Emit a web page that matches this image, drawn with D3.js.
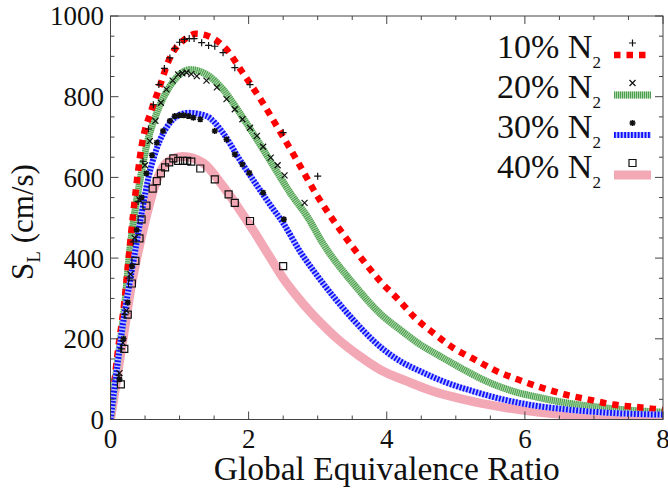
<!DOCTYPE html>
<html>
<head>
<meta charset="utf-8">
<script src="https://cdn.jsdelivr.net/npm/d3@7"></script>
<style>
	body { margin: 0; background: #fff; }
	svg { display: block; }
</style>
</head>
<body>
<svg id="chart" width="668" height="491"></svg>
<script>
// Series names
const seriesNames = ["10% N", "20% N", "30% N", "40% N"];

// Simulated burning velocity curves: [phi, S_L]
const sim10 = [[0,0],[0.1,160],[0.2,290],[0.28,430],[0.33,512],[0.45,677],[0.6,770],[0.69,814],[0.86,896],[1.08,943],[1.24,956],[1.42,950],[1.68,917],[1.9,863],[2.19,789],[2.45,715],[2.72,636],[2.98,558],[3.27,483],[3.59,409],[3.92,340],[4.17,297],[4.41,252],[4.67,215],[4.96,178],[5.27,149],[5.59,120],[5.9,99],[6.24,79],[6.58,62],[6.91,50],[7.28,37],[7.61,31],[8,24]];
const sim20 = [[0,0],[0.1,140],[0.2,275],[0.28,420],[0.35,512],[0.43,595],[0.52,677],[0.67,760],[0.86,826],[1.0,855],[1.15,867],[1.39,855],[1.63,818],[1.87,760],[2.12,694],[2.36,628],[2.6,562],[2.86,500],[3.08,435],[3.5,340],[3.92,260],[4.19,223],[4.48,186],[4.77,157],[5.11,124],[5.44,95],[5.83,70],[6.22,54],[6.6,41],[7.04,31],[7.52,23],[8,18]];
const sim30 = [[0,0],[0.1,135],[0.2,260],[0.3,360],[0.37,430],[0.47,530],[0.55,600],[0.67,672],[0.86,735],[1.0,755],[1.13,760],[1.39,752],[1.63,710],[1.87,644],[2.1,585],[2.3,535],[2.5,487],[2.75,415],[3.0,355],[3.25,300],[3.5,250],[3.92,178],[4.19,145],[4.48,120],[4.87,91],[5.25,70],[5.68,50],[6.12,35],[6.6,25],[7.18,17],[8,12]];
const sim40 = [[0,0],[0.1,110],[0.2,220],[0.3,330],[0.43,438],[0.52,504],[0.64,578],[0.81,636],[1.05,652],[1.34,636],[1.63,578],[1.87,520],[2.07,468],[2.3,405],[2.5,350],[2.7,305],[2.9,265],[3.1,230],[3.3,198],[3.6,158],[3.92,122],[4.29,95],[4.67,70],[5.11,50],[5.59,33],[6.07,21],[6.6,12],[7.28,8],[8,7]];

// Measured points: [phi, S_L]
const exp10 = [[0.12,110],[0.16,175],[0.21,260],[0.27,350],[0.33,440],[0.4,540],[0.47,640],[0.55,720],[0.62,780],[0.7,830],[0.78,870],[0.86,896],[0.93,920],[1.0,935],[1.07,942],[1.14,944],[1.21,944],[1.32,934],[1.42,927],[1.51,925],[1.63,909],[1.8,872],[2.02,830],[2.5,711],[3.0,603]];
const exp20 = [[0.13,115],[0.18,190],[0.23,270],[0.29,360],[0.35,450],[0.42,545],[0.5,630],[0.57,690],[0.65,740],[0.73,785],[0.81,818],[0.9,840],[0.98,855],[1.04,858],[1.1,860],[1.17,856],[1.25,851],[1.39,840],[1.54,823],[1.68,794],[1.8,769],[1.91,744],[2.02,723],[2.12,703],[2.21,676],[2.32,649],[2.42,630],[2.52,605],[2.81,537]];
const exp30 = [[0.13,100],[0.19,200],[0.25,290],[0.31,380],[0.38,470],[0.45,550],[0.52,610],[0.6,655],[0.67,686],[0.76,715],[0.86,740],[0.93,752],[1.0,754],[1.06,754],[1.13,752],[1.2,748],[1.3,744],[1.51,715],[1.68,694],[1.8,657],[1.91,632],[2.01,611],[2.21,562],[2.51,496]];
const exp40 = [[0.15,87],[0.2,175],[0.25,260],[0.31,337],[0.36,393],[0.42,449],[0.45,496],[0.52,530],[0.61,572],[0.67,591],[0.73,610],[0.79,625],[0.85,637],[0.91,647],[0.98,641],[1.05,641],[1.11,641],[1.17,639],[1.3,622],[1.51,595],[1.71,558],[1.8,537],[2.02,492],[2.5,380]];

// Tick values
const xTicks = [0, 2, 4, 6, 8];
const yTicks = [0, 200, 400, 600, 800, 1000];

const svg = d3.select("#chart")
	.attr("font-family", "'Liberation Serif', 'Times New Roman', Times, serif");

const plotLeft = 110.5, plotRight = 663, plotTop = 16, plotBottom = 419.5;

const x = d3.scaleLinear().domain([0, 8]).range([plotLeft, plotRight]);
const y = d3.scaleLinear().domain([0, 1000]).range([plotBottom, plotTop]);

svg.append("defs").append("clipPath").attr("id", "plotClip")
	.append("rect")
	.attr("x", plotLeft).attr("y", plotTop)
	.attr("width", plotRight - plotLeft).attr("height", plotBottom - plotTop);

const line = d3.line()
	.x(d => x(d[0]))
	.y(d => y(d[1]))
	.curve(d3.curveMonotoneX);

// Line styles for each simulated series (layers drawn in order)
const styles = [
	[{ stroke: "#ff0000", width: 6.5, dash: "6.5,6" }],
	[{ stroke: "#b5dcb5", width: 7, dash: null }, { stroke: "#4c9f4c", width: 7, dash: "1.1,0.9" }],
	[{ stroke: "#b8c0ff", width: 6, dash: null }, { stroke: "#1010ff", width: 6, dash: "1.8,1.6" }],
	[{ stroke: "#f3a8b6", width: 9, dash: null }]
];
const simData = [sim10, sim20, sim30, sim40];
const expData = [exp10, exp20, exp30, exp40];
const drawOrder = [3, 1, 0, 2];

const plot = svg.append("g").attr("clip-path", "url(#plotClip)");

for (const i of drawOrder) {
	for (const s of styles[i]) {
		plot.append("path")
			.datum(simData[i])
			.attr("d", line)
			.attr("fill", "none")
			.attr("stroke", s.stroke)
			.attr("stroke-width", s.width)
			.attr("stroke-dasharray", s.dash);
	}
}

// Marker path for each series
function markerPath(kind) {
	switch (kind) {
		case 0: return "M-3.5,0H3.5M0,-3.5V3.5";
		case 1: return "M-3,-3L3,3M-3,3L3,-3";
		case 2: return "M-3,0H3M0,-3V3M-2.3,-2.3L2.3,2.3M-2.3,2.3L2.3,-2.3";
		case 3: return "M-3.5,-3.5H3.5V3.5H-3.5Z";
	}
}

expData.forEach((data, i) => {
	plot.append("g")
		.selectAll("path")
		.data(data)
		.join("path")
		.attr("transform", d => `translate(${x(d[0])},${y(d[1])})`)
		.attr("d", markerPath(i))
		.attr("fill", "none")
		.attr("stroke", "#111")
		.attr("stroke-width", i === 2 ? 1.6 : 1.2);
});

// Frame
svg.append("rect")
	.attr("x", plotLeft).attr("y", plotTop)
	.attr("width", plotRight - plotLeft).attr("height", plotBottom - plotTop)
	.attr("fill", "none")
	.attr("stroke", "#444")
	.attr("stroke-width", 1);

// Inward ticks on all four sides
const xMinor = d3.range(0, 8.01, 0.5);
const yMinor = d3.range(0, 1001, 50);
const tickG = svg.append("g").attr("stroke", "#444").attr("stroke-width", 1);

for (const v of xMinor) {
	const len = v % 2 === 0 ? 8 : 4;
	tickG.append("line").attr("x1", x(v)).attr("x2", x(v)).attr("y1", plotBottom).attr("y2", plotBottom - len);
	tickG.append("line").attr("x1", x(v)).attr("x2", x(v)).attr("y1", plotTop).attr("y2", plotTop + len);
}
for (const v of yMinor) {
	const len = v % 200 === 0 ? 8 : 4;
	tickG.append("line").attr("x1", plotLeft).attr("x2", plotLeft + len).attr("y1", y(v)).attr("y2", y(v));
	tickG.append("line").attr("x1", plotRight).attr("x2", plotRight - len).attr("y1", y(v)).attr("y2", y(v));
}

// Tick labels
svg.append("g")
	.selectAll("text")
	.data(xTicks)
	.join("text")
	.attr("x", d => x(d))
	.attr("y", 448)
	.attr("text-anchor", "middle")
	.attr("font-size", 27)
	.attr("fill", "#111")
	.text(d => d);

svg.append("g")
	.selectAll("text")
	.data(yTicks)
	.join("text")
	.attr("x", 104)
	.attr("y", d => y(d))
	.attr("dy", "0.35em")
	.attr("text-anchor", "end")
	.attr("font-size", 27)
	.attr("fill", "#111")
	.text(d => d);

// Axis titles
svg.append("text")
	.attr("x", (plotLeft + plotRight) / 2)
	.attr("y", 480)
	.attr("text-anchor", "middle")
	.attr("font-size", 33.5)
	.attr("fill", "#111")
	.text("Global Equivalence Ratio");

const yTitle = svg.append("text")
	.attr("transform", "translate(33,222) rotate(-90)")
	.attr("text-anchor", "middle")
	.attr("font-size", 31)
	.attr("fill", "#111");
yTitle.append("tspan").text("S");
yTitle.append("tspan").attr("font-size", 19).attr("dy", 7).text("L");
yTitle.append("tspan").attr("dy", -7).text(" (cm/s)");

// Legend
const legend = svg.append("g");
seriesNames.forEach((name, i) => {
	const base = 58 + i * 40;
	const t = legend.append("text")
		.attr("x", 497)
		.attr("y", base)
		.attr("font-size", 34)
		.attr("fill", "#111");
	t.append("tspan").text(name);
	t.append("tspan").attr("font-size", 17).attr("dy", 10).text("2");

	for (const s of styles[i]) {
		legend.append("line")
			.attr("x1", 614).attr("x2", 651)
			.attr("y1", base - 3).attr("y2", base - 3)
			.attr("stroke", s.stroke)
			.attr("stroke-width", s.width)
			.attr("stroke-dasharray", s.dash);
	}
	legend.append("path")
		.attr("transform", `translate(632.5,${base - 15})`)
		.attr("d", markerPath(i))
		.attr("fill", "none")
		.attr("stroke", "#111")
		.attr("stroke-width", i === 2 ? 1.6 : 1.2);
});
</script>
</body>
</html>
